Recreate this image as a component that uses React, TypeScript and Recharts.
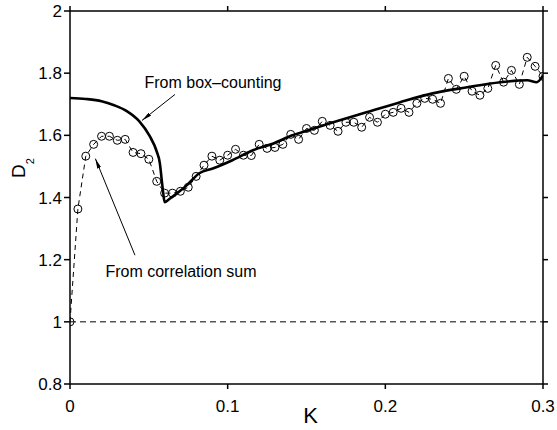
import React from 'react';
import { LineChart, Line, XAxis, YAxis, ReferenceLine, ReferenceDot } from 'recharts';

const kValues = [
  0, 0.005, 0.01, 0.015, 0.02, 0.025, 0.03, 0.035, 0.04, 0.045,
  0.05, 0.055, 0.06, 0.065, 0.07, 0.075, 0.08, 0.085, 0.09, 0.095,
  0.1, 0.105, 0.11, 0.115, 0.12, 0.125, 0.13, 0.135, 0.14, 0.145,
  0.15, 0.155, 0.16, 0.165, 0.17, 0.175, 0.18, 0.185, 0.19, 0.195,
  0.2, 0.205, 0.21, 0.215, 0.22, 0.225, 0.23, 0.235, 0.24, 0.245,
  0.25, 0.255, 0.26, 0.265, 0.27, 0.275, 0.28, 0.285, 0.29, 0.295, 0.3,
];
const corrSumD2 = [
  1.0, 1.363, 1.533, 1.571, 1.597, 1.597, 1.584, 1.587, 1.545, 1.541,
  1.523, 1.452, 1.414, 1.414, 1.42, 1.433, 1.468, 1.504, 1.533, 1.52,
  1.536, 1.555, 1.536, 1.535, 1.571, 1.558, 1.561, 1.571, 1.603, 1.587,
  1.622, 1.616, 1.645, 1.632, 1.613, 1.642, 1.642, 1.626, 1.658, 1.642,
  1.668, 1.674, 1.687, 1.674, 1.703, 1.719, 1.716, 1.703, 1.783, 1.748,
  1.79, 1.742, 1.729, 1.751, 1.825, 1.771, 1.809, 1.764, 1.851, 1.822, 1.79,
];
const boxK = [
  0, 0.01, 0.02, 0.028, 0.036, 0.044, 0.0505, 0.055, 0.057, 0.058, 0.059, 0.06,
  0.063, 0.068, 0.074, 0.082, 0.091, 0.103, 0.116, 0.129, 0.141, 0.152,
  0.167, 0.188, 0.209, 0.23, 0.251, 0.273, 0.29, 0.296, 0.3,
];
const boxCountD2 = [
  1.72, 1.717, 1.71, 1.697, 1.678, 1.645, 1.598, 1.548, 1.51, 1.465, 1.42, 1.385,
  1.395, 1.414, 1.439, 1.478, 1.494, 1.52, 1.552, 1.574, 1.6, 1.618,
  1.642, 1.674, 1.706, 1.735, 1.754, 1.771, 1.777, 1.771, 1.793,
];
const xTicks = [0, 0.1, 0.2, 0.3];
const yTicks = [0.8, 1, 1.2, 1.4, 1.6, 1.8, 2];

const corrData = kValues.map((k, i) => ({ k, d: corrSumD2[i] }));
const boxData = boxK.map((k, i) => ({ k, d: boxCountD2[i] }));

const FONT = '"Liberation Sans", Arial, Helvetica, sans-serif';
const axisStroke = { stroke: '#000', strokeWidth: 1.5 };
const noTickLabel = () => <g />;

const arrowShape = (p: any) => (
  <line x1={p.x1} y1={p.y1} x2={p.x2} y2={p.y2} stroke="#000" strokeWidth={1} markerEnd="url(#arrowHead)" />
);

const YLabel = (props: any) => {
  const vb = props.viewBox || { x: 0, y: 11, width: 70, height: 373 };
  const cx = vb.x + 25;
  const cy = vb.y + 157;
  return (
    <text x={cx} y={cy} transform={`rotate(-90 ${cx} ${cy})`} textAnchor="middle" fontSize={19} fontFamily={FONT} fill="#000">
      D<tspan fontSize={11} dy={9}>2</tspan>
    </text>
  );
};

export default function App() {
  return (
    <div style={{ position: 'absolute', left: 0, top: 0, background: '#fff' }}>
      <LineChart width={557} height={430} margin={{ top: 6, right: 4, left: 0, bottom: 0 }} style={{ fontFamily: FONT }}>
        <defs>
          <marker id="arrowHead" viewBox="0 0 10 10" refX="10" refY="5" markerWidth="10" markerHeight="4" orient="auto" markerUnits="userSpaceOnUse" preserveAspectRatio="none">
            <path d="M0,0 L10,5 L0,10 z" fill="#000" />
          </marker>
        </defs>
        <XAxis
          xAxisId={0}
          dataKey="k"
          type="number"
          domain={[0, 0.3]}
          ticks={xTicks}
          allowDataOverflow
          height={46}
          tickSize={5}
          tickMargin={11}
          axisLine={axisStroke}
          tickLine={axisStroke}
          tick={{ fill: '#000', fontSize: 17, fontFamily: FONT }}
          label={{ value: 'K', position: 'insideBottom', offset: 7, dx: 4, fontSize: 22, fill: '#000', fontFamily: FONT }}
        />
        <XAxis
          xAxisId="top"
          orientation="top"
          dataKey="k"
          type="number"
          domain={[0, 0.3]}
          ticks={xTicks}
          allowDataOverflow
          height={5}
          tickSize={5}
          tick={noTickLabel}
          axisLine={axisStroke}
          tickLine={axisStroke}
        />
        <YAxis
          yAxisId={0}
          type="number"
          domain={[0.8, 2]}
          ticks={yTicks}
          allowDataOverflow
          width={70}
          tickSize={6}
          tickMargin={2}
          axisLine={axisStroke}
          tickLine={axisStroke}
          tick={{ fill: '#000', fontSize: 17, fontFamily: FONT }}
          label={(props: any) => <YLabel {...props} />}
        />
        <YAxis
          yAxisId="right"
          orientation="right"
          type="number"
          domain={[0.8, 2]}
          ticks={yTicks}
          allowDataOverflow
          width={10}
          tickSize={5}
          tick={noTickLabel}
          axisLine={axisStroke}
          tickLine={axisStroke}
        />
        <ReferenceLine y={1} stroke="#000" strokeWidth={1} strokeDasharray="6 4" />
        <Line
          data={corrData}
          dataKey="d"
          type="linear"
          stroke="#000"
          strokeWidth={1}
          strokeDasharray="5 4"
          dot={{ r: 4, stroke: '#000', strokeWidth: 1, fill: 'none', strokeDasharray: '0' }}
          isAnimationActive={false}
        />
        <Line
          data={boxData}
          dataKey="d"
          type="monotone"
          stroke="#000"
          strokeWidth={2.6}
          dot={false}
          isAnimationActive={false}
        />
        <ReferenceLine segment={[{ x: 0.0666, y: 1.7316 }, { x: 0.0457, y: 1.648 }]} shape={arrowShape} />
        <ReferenceLine segment={[{ x: 0.0412, y: 1.2144 }, { x: 0.0161, y: 1.525 }]} shape={arrowShape} />
        <ReferenceDot x={0.0907} y={1.77} r={0} stroke="none" fill="none"
          label={{ value: 'From box–counting', position: 'center', fontSize: 16, fill: '#000', fontFamily: FONT }} />
        <ReferenceDot x={0.0704} y={1.163} r={0} stroke="none" fill="none"
          label={{ value: 'From correlation sum', position: 'center', fontSize: 16, fill: '#000', fontFamily: FONT }} />
      </LineChart>
    </div>
  );
}
